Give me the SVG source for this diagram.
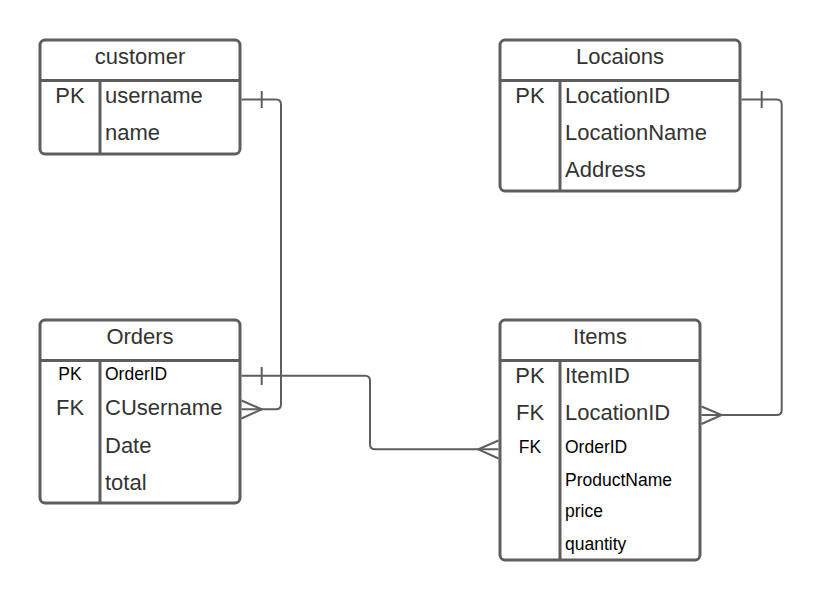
<svg xmlns="http://www.w3.org/2000/svg" width="822" height="602" viewBox="0 0 822 602">
<style>
.box{fill:#fff;stroke:#5e5e5e;stroke-width:3}
.ln{stroke:#5e5e5e;stroke-width:3;fill:none}
.cn{stroke:#5e5e5e;stroke-width:2;fill:none}
.h{font-family:"Liberation Sans",Arial,sans-serif;font-size:22px;fill:#333;text-anchor:middle}
.t{font-family:"Liberation Sans",Arial,sans-serif;font-size:22px;fill:#333}
.s{font-family:"Liberation Sans",Arial,sans-serif;font-size:17.5px;fill:#000}
.c{text-anchor:middle}
</style>
<rect width="822" height="602" fill="#fff"/>
<g id="customer">
<rect class="box" x="40" y="40" width="200" height="114" rx="5"/>
<line class="ln" x1="40" y1="80.5" x2="240" y2="80.5"/>
<line class="ln" x1="100" y1="80.5" x2="100" y2="154"/>
<text class="h" x="140" y="64">customer</text>
<text class="t c" x="70" y="102.7">PK</text>
<text class="t" x="105" y="102.7">username</text>
<text class="t" x="105" y="140">name</text>
</g>
<g id="locations">
<rect class="box" x="500" y="40" width="240" height="151" rx="5"/>
<line class="ln" x1="500" y1="80.5" x2="740" y2="80.5"/>
<line class="ln" x1="560" y1="80.5" x2="560" y2="191"/>
<text class="h" x="620" y="64">Locaions</text>
<text class="t c" x="530" y="102.7">PK</text>
<text class="t" x="565" y="102.7">LocationID</text>
<text class="t" x="565" y="140">LocationName</text>
<text class="t" x="565" y="176.7">Address</text>
</g>
<g id="orders">
<rect class="box" x="40" y="320" width="200" height="183" rx="5"/>
<line class="ln" x1="40" y1="360.5" x2="240" y2="360.5"/>
<line class="ln" x1="100" y1="360.5" x2="100" y2="503"/>
<text class="h" x="140" y="344.3">Orders</text>
<text class="s c" x="70" y="380">PK</text>
<text class="s" x="105" y="380">OrderID</text>
<text class="t c" x="70" y="415">FK</text>
<text class="t" x="105" y="415">CUsername</text>
<text class="t" x="105" y="452.5">Date</text>
<text class="t" x="105" y="489.5">total</text>
</g>
<g id="items">
<rect class="box" x="500" y="320" width="200" height="240" rx="5"/>
<line class="ln" x1="500" y1="360.5" x2="700" y2="360.5"/>
<line class="ln" x1="560" y1="360.5" x2="560" y2="560"/>
<text class="h" x="600" y="344.3">Items</text>
<text class="t c" x="530" y="383.3">PK</text>
<text class="t" x="565" y="383.3">ItemID</text>
<text class="t c" x="530" y="420">FK</text>
<text class="t" x="565" y="420">LocationID</text>
<text class="s c" x="530" y="453.3">FK</text>
<text class="s" x="565" y="453.3">OrderID</text>
<text class="s" x="565" y="485.7">ProductName</text>
<text class="s" x="565" y="517">price</text>
<text class="s" x="565" y="550">quantity</text>
</g>
<g id="connectors">
<path class="cn" d="M241.5 99.5 H276 Q281 99.5 281 104.5 V404.3 Q281 409.3 276 409.3 H241.5"/>
<line class="cn" x1="261.7" y1="91" x2="261.7" y2="108"/>
<path class="cn" d="M241.5 400.5 L261.7 409.3 L241.5 418.5"/>
<path class="cn" d="M241.5 375.7 H365 Q370 375.7 370 380.7 V444.3 Q370 449.3 375 449.3 H498.5"/>
<line class="cn" x1="261.7" y1="367" x2="261.7" y2="385"/>
<path class="cn" d="M498.5 440.5 L478.3 449.3 L498.5 458.5"/>
<path class="cn" d="M741.5 99.5 H776.7 Q781.7 99.5 781.7 104.5 V410 Q781.7 415 776.7 415 H701.5"/>
<line class="cn" x1="761.7" y1="91" x2="761.7" y2="108"/>
<path class="cn" d="M701.5 406.5 L721.7 415 L701.5 424"/>
</g>
</svg>
